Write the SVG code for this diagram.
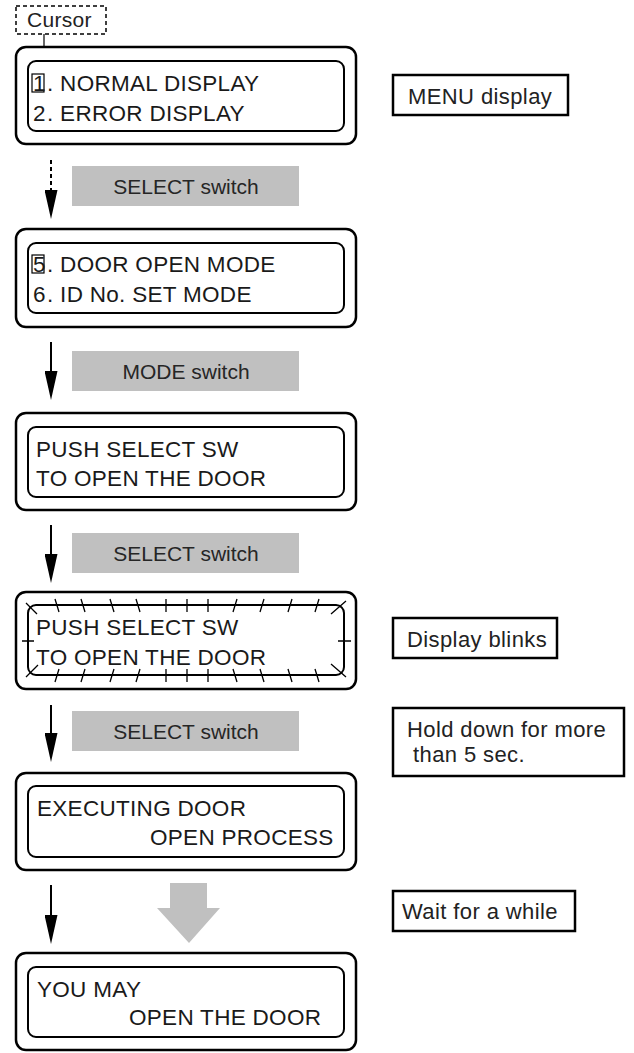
<svg xmlns="http://www.w3.org/2000/svg" width="634" height="1053" viewBox="0 0 634 1053">
<defs>
<style>
.outer{fill:#fff;stroke:#000;stroke-width:2.5}
.inner{fill:none;stroke:#000;stroke-width:2}
.dt{font-family:"Liberation Sans",Arial,sans-serif;font-size:22.5px;fill:#1a1a1a;letter-spacing:0.3px}
.gbox{fill:#c0c0c0}
.gt{font-family:"Liberation Sans",Arial,sans-serif;font-size:21px;fill:#262626;text-anchor:middle}
.lbox{fill:#fff;stroke:#000;stroke-width:2.5}
.lt{font-family:"Liberation Sans",Arial,sans-serif;font-size:22px;fill:#222;letter-spacing:0.4px}
.ln{stroke:#000;stroke-width:2;fill:none}
.tick{stroke:#000;stroke-width:1.3;fill:none}
.cbox{fill:none;stroke:#000;stroke-width:1.2}
</style>
<marker id="ah" markerWidth="29" markerHeight="13" refX="24" refY="6.5" orient="auto" markerUnits="userSpaceOnUse" viewBox="0 0 29 13">
<path d="M0,0 L29,6.5 L0,13 Z" fill="#000"/>
</marker>
</defs>
<rect width="634" height="1053" fill="#fff"/>

<g id="cursor-label">
<rect x="16" y="6" width="90" height="28" fill="none" stroke="#000" stroke-width="1.5" stroke-dasharray="4 3"/>
<text x="27" y="27" class="lt" style="font-size:21px;letter-spacing:0.3px">Cursor</text>
<line x1="44" y1="34" x2="44" y2="74" stroke="#000" stroke-width="1.2"/>
</g>

<g id="display1">
<rect x="16" y="47" width="340" height="97" rx="10" class="outer"/>
<rect x="28" y="61" width="316" height="70" rx="8" class="inner"/>
<rect x="32" y="74" width="12" height="18" class="cbox"/>
<text class="dt" y="91"><tspan x="33">1</tspan><tspan x="47">. NORMAL DISPLAY</tspan></text>
<text class="dt" y="121"><tspan x="33">2</tspan><tspan x="47">. ERROR DISPLAY</tspan></text>
</g>

<g id="menu-label">
<rect x="393" y="75" width="175" height="40" class="lbox"/>
<text x="408" y="104" class="lt">MENU display</text>
</g>

<g id="gray1">
<rect x="72" y="166" width="227" height="40" class="gbox"/>
<text x="186" y="194" class="gt">SELECT switch</text>
</g>

<g id="display2">
<rect x="16" y="229" width="340" height="98" rx="10" class="outer"/>
<rect x="28" y="243" width="316" height="70" rx="8" class="inner"/>
<rect x="32" y="255" width="12" height="18" class="cbox"/>
<text class="dt" y="272"><tspan x="33">5</tspan><tspan x="47">. DOOR OPEN MODE</tspan></text>
<text class="dt" y="302"><tspan x="33">6</tspan><tspan x="47">. ID No. SET MODE</tspan></text>
</g>

<g id="gray2">
<rect x="72" y="351" width="227" height="40" class="gbox"/>
<text x="186" y="379" class="gt">MODE switch</text>
</g>

<g id="display3">
<rect x="16" y="413" width="340" height="97" rx="10" class="outer"/>
<rect x="28" y="427" width="316" height="70" rx="8" class="inner"/>
<text class="dt" x="36" y="457">PUSH SELECT SW</text>
<text class="dt" x="36" y="486">TO OPEN THE DOOR</text>
</g>

<g id="gray3">
<rect x="72" y="533" width="227" height="40" class="gbox"/>
<text x="186" y="561" class="gt">SELECT switch</text>
</g>

<g id="display4">
<rect x="16" y="592" width="340" height="97" rx="10" class="outer"/>
<rect x="28" y="605" width="316" height="70" rx="8" class="inner"/>
<text class="dt" x="36" y="635">PUSH SELECT SW</text>
<text class="dt" x="36" y="665">TO OPEN THE DOOR</text>
<g class="tick">
<path d="M26,603 L37,614 M55,599 L59,612 M81,599 L85,612 M110,599 L114,612 M136,599 L140,612 M166,599 L166,612 M187,599 L187,612 M208,599 L208,612 M237,599 L233,612 M264,599 L260,612 M292,599 L288,612 M319,599 L315,612 M331,614 L346,601"/>
<path d="M26,677 L38,665 M59,669 L55,682 M85,669 L81,682 M114,669 L110,682 M140,669 L136,682 M166,669 L166,682 M187,669 L187,682 M208,669 L208,682 M233,669 L237,682 M260,669 L264,682 M288,669 L292,682 M315,669 L319,682 M331,664 L346,677"/>
<path d="M22,641 L34,641 M338,641 L351,641"/>
</g>
</g>

<g id="blink-label">
<rect x="393" y="618" width="164" height="40" class="lbox"/>
<text x="407" y="647" class="lt">Display blinks</text>
</g>

<g id="gray4">
<rect x="72" y="711" width="227" height="40" class="gbox"/>
<text x="186" y="739" class="gt">SELECT switch</text>
</g>

<g id="hold-label">
<rect x="393" y="708" width="231" height="68" class="lbox"/>
<text x="407" y="737" class="lt">Hold down for more</text>
<text x="413" y="762" class="lt">than 5 sec.</text>
</g>

<g id="display5">
<rect x="16" y="773" width="340" height="97" rx="10" class="outer"/>
<rect x="28" y="786" width="316" height="71" rx="8" class="inner"/>
<text class="dt" x="37" y="816">EXECUTING DOOR</text>
<text class="dt" x="150" y="845">OPEN PROCESS</text>
</g>

<g id="wait-label">
<rect x="393" y="891" width="182" height="40" class="lbox"/>
<text x="402" y="919" class="lt">Wait for a while</text>
</g>

<g id="display6">
<rect x="16" y="953" width="340" height="97" rx="10" class="outer"/>
<rect x="28" y="967" width="316" height="70" rx="8" class="inner"/>
<text class="dt" x="37" y="997">YOU MAY</text>
<text class="dt" x="129" y="1025">OPEN THE DOOR</text>
</g>

<g id="connectors">
<line x1="51" y1="160" x2="51" y2="214" class="ln" stroke-dasharray="4 3" marker-end="url(#ah)"/>
<line x1="51" y1="342" x2="51" y2="395" class="ln" marker-end="url(#ah)"/>
<line x1="51" y1="525" x2="51" y2="578" class="ln" marker-end="url(#ah)"/>
<line x1="51" y1="705" x2="51" y2="757" class="ln" marker-end="url(#ah)"/>
<line x1="51" y1="885" x2="51" y2="939" class="ln" marker-end="url(#ah)"/>
<path d="M170,883 L207,883 L207,908 L220,908 L189,943 L157,908 L170,908 Z" fill="#c0c0c0"/>
</g>
</svg>
